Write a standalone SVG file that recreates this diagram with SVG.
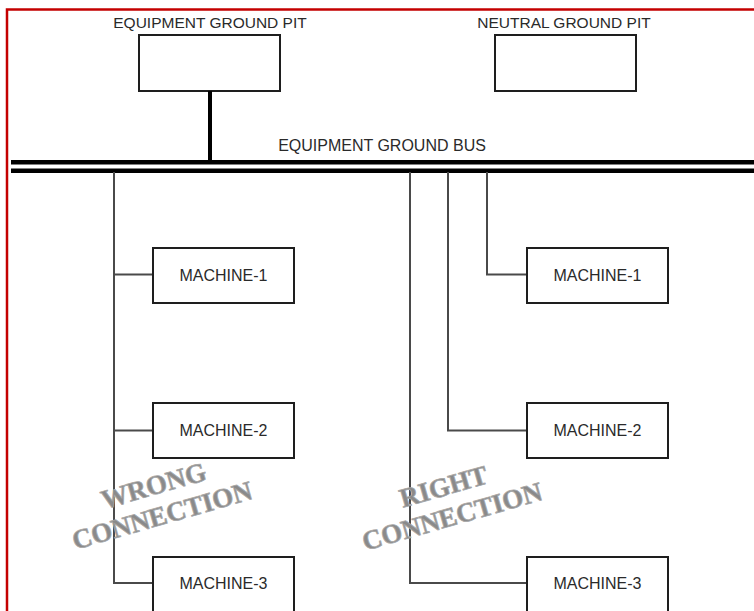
<svg xmlns="http://www.w3.org/2000/svg" width="754" height="611" viewBox="0 0 754 611">
<style>
.box{fill:#fff;stroke:#1e1e1e;stroke-width:2}
.lbl{font-family:"Liberation Sans",Arial,sans-serif;fill:#2a2a2a;text-anchor:middle}
.wire{fill:none;stroke:#4a4a4a;stroke-width:2}
.bus{fill:none;stroke:#000;stroke-width:4.5}
.wm{font-family:"Liberation Serif","Times New Roman",serif;font-weight:bold;font-size:27px;fill:#8a8a8a;text-anchor:middle;stroke:#a8a8a8;stroke-width:0.8}
</style>
<rect width="754" height="611" fill="#fff"/>
<path d="M7 611 V9.5 H754" fill="none" stroke="#c40000" stroke-width="2.5"/>
<g id="equipment-ground-pit">
<rect class="box" x="139" y="35" width="141" height="56"/>
<text class="lbl" x="210" y="28" font-size="15.5">EQUIPMENT GROUND PIT</text>
</g>
<g id="neutral-ground-pit">
<rect class="box" x="495" y="35" width="141" height="56"/>
<text class="lbl" x="564" y="28" font-size="15.5">NEUTRAL GROUND PIT</text>
</g>
<g id="equipment-ground-bus">
<line class="bus" x1="11" y1="162.3" x2="754" y2="162.3"/>
<line class="bus" x1="11" y1="170.8" x2="754" y2="170.8"/>
<text class="lbl" x="382" y="151" font-size="16">EQUIPMENT GROUND BUS</text>
</g>
<g id="connectors">
<line x1="210" y1="91" x2="210" y2="161" stroke="#000" stroke-width="4"/>
<path class="wire" d="M114 172 V583 H153 M114 274.5 H153 M114 430.5 H153"/>
<path class="wire" d="M410 172 V583 H527 M448 172 V430.5 H527 M487 172 V274.5 H527"/>
</g>
<g id="machine-1-left">
<rect class="box" x="153" y="248" width="141" height="55"/>
<text class="lbl" x="223.5" y="281" font-size="16">MACHINE-1</text>
</g>
<g id="machine-2-left">
<rect class="box" x="153" y="403" width="141" height="55"/>
<text class="lbl" x="223.5" y="436" font-size="16">MACHINE-2</text>
</g>
<g id="machine-3-left">
<rect class="box" x="153" y="557" width="141" height="60"/>
<text class="lbl" x="223.5" y="589" font-size="16">MACHINE-3</text>
</g>
<g id="machine-1-right">
<rect class="box" x="527" y="248" width="141" height="55"/>
<text class="lbl" x="597.5" y="281" font-size="16">MACHINE-1</text>
</g>
<g id="machine-2-right">
<rect class="box" x="527" y="403" width="141" height="55"/>
<text class="lbl" x="597.5" y="436" font-size="16">MACHINE-2</text>
</g>
<g id="machine-3-right">
<rect class="box" x="527" y="557" width="141" height="60"/>
<text class="lbl" x="597.5" y="589" font-size="16">MACHINE-3</text>
</g>
<g id="watermark-wrong" transform="translate(158 501) rotate(-16)">
<text class="wm" x="0" y="-7">WRONG</text>
<text class="wm" x="0" y="24">CONNECTION</text>
</g>
<g id="watermark-right" transform="translate(448 502) rotate(-16)">
<text class="wm" x="0" y="-7">RIGHT</text>
<text class="wm" x="0" y="24">CONNECTION</text>
</g>
</svg>
